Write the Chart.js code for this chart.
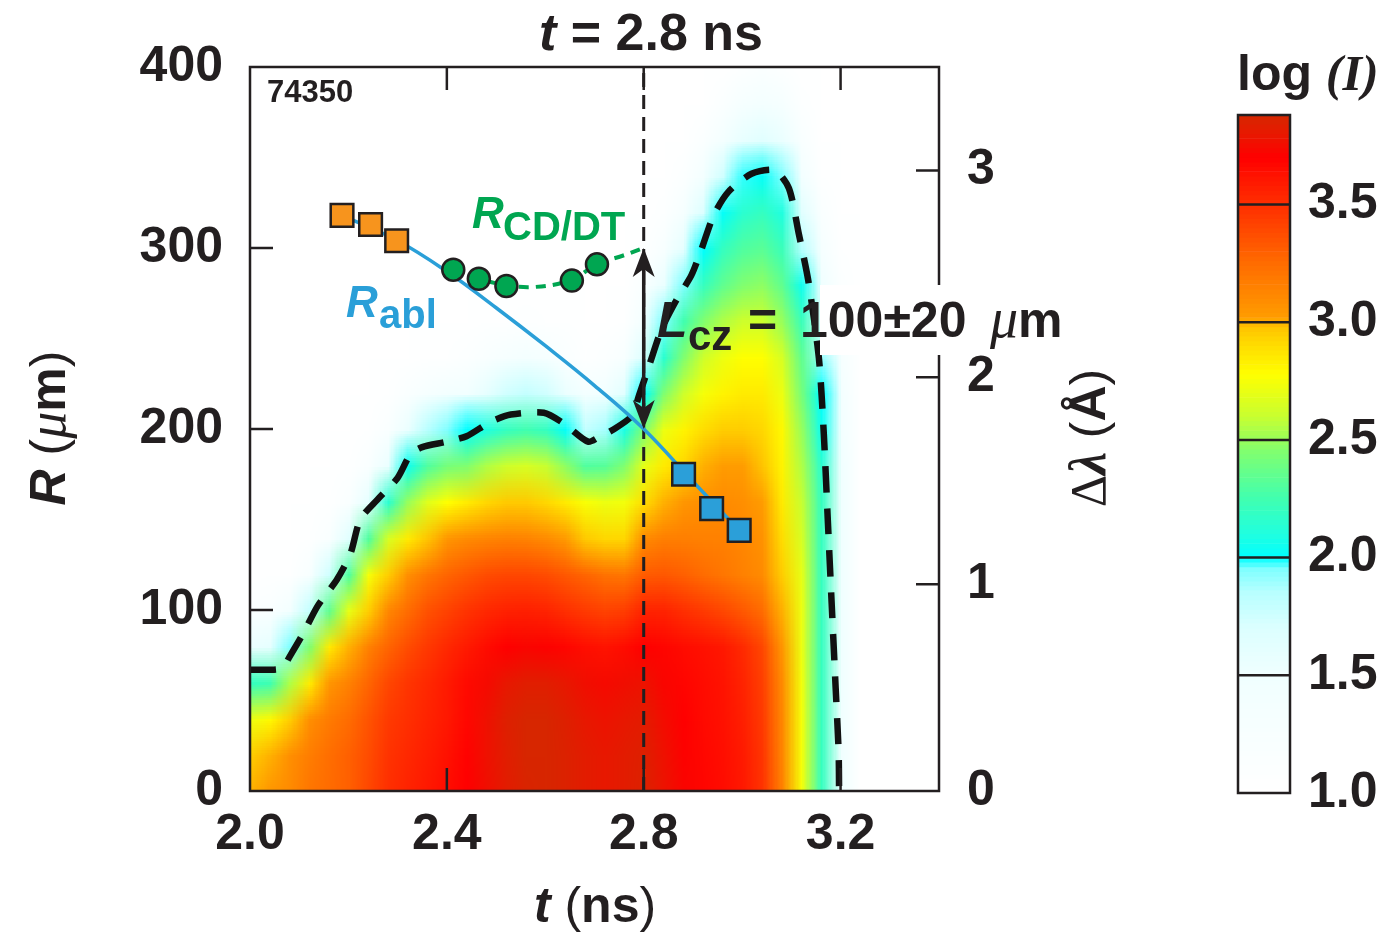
<!DOCTYPE html>
<html>
<head>
<meta charset="utf-8">
<title>t = 2.8 ns</title>
<script src="https://cdn.jsdelivr.net/npm/chart.js@4.4.0/dist/chart.umd.min.js"></script>
<style>
  body { margin: 0; background: #fff; }
  #wrap { position: relative; width: 1393px; height: 934px; }
  #wrap canvas { position: absolute; top: 0; }
</style>
</head>
<body>
<div id="wrap">
  <canvas id="main" width="1393" height="934" style="left:0"></canvas>
  <canvas id="cbar" width="213" height="934" style="left:1180px"></canvas>
</div>
<script>
var INK = '#231f20';
var SANS = 'Liberation Sans', SERIF = 'Liberation Serif';
Chart.defaults.font.family = SANS;
Chart.defaults.color = INK;

// axes
var tCut = 2.8;                 // time of the lineout (ns)
var tTicks = [2.0, 2.4, 2.8, 3.2];
var rTicks = [0, 100, 200, 300, 400];
var dlTicks = [0, 1, 2, 3];
var cbTicks = [1.0, 1.5, 2.0, 2.5, 3.0, 3.5];
var cbMin = 1.0, cbMax = 3.88;

// streaked emission, log(I) on a t x R grid
var tGrid = [2.00, 2.04, 2.08, 2.12, 2.16, 2.20, 2.24, 2.28, 2.32, 2.36, 2.40, 2.44, 2.48, 2.52, 2.56, 2.60,
             2.64, 2.68, 2.72, 2.76, 2.80, 2.84, 2.88, 2.92, 2.96, 3.00, 3.04, 3.08, 3.12, 3.16, 3.20, 3.24];
var rGrid = [0, 20, 40, 60, 80, 100, 120, 140, 160, 180, 200, 220, 240, 260, 280, 300, 320, 340, 360, 380, 400];
var logI = [
  [3.00,3.05,3.10,3.20,3.25,3.30,3.40,3.50,3.55,3.60,3.65,3.70,3.76,3.82,3.86,3.87,3.85,3.82,3.80,3.82,3.85,3.78,3.72,3.68,3.65,3.60,3.48,3.15,2.75,2.20,1.50,1.00], // R = 0
  [2.95,3.00,3.08,3.17,3.24,3.30,3.38,3.48,3.53,3.58,3.63,3.69,3.77,3.83,3.87,3.87,3.85,3.82,3.80,3.82,3.84,3.77,3.71,3.67,3.64,3.59,3.47,3.13,2.75,2.20,1.50,1.00], // 20
  [2.72,2.80,2.95,3.08,3.18,3.25,3.35,3.45,3.50,3.55,3.60,3.67,3.77,3.84,3.87,3.87,3.84,3.80,3.78,3.80,3.82,3.75,3.70,3.66,3.63,3.57,3.45,3.12,2.75,2.20,1.50,1.00], // 40
  [2.20,2.25,2.55,2.85,3.05,3.15,3.28,3.40,3.47,3.53,3.59,3.66,3.74,3.80,3.83,3.83,3.80,3.76,3.74,3.76,3.78,3.72,3.68,3.65,3.62,3.55,3.43,3.10,2.74,2.20,1.50,1.00], // 60
  [1.55,1.60,1.95,2.45,2.85,3.00,3.15,3.28,3.38,3.46,3.53,3.59,3.65,3.70,3.72,3.71,3.68,3.64,3.62,3.65,3.70,3.68,3.65,3.63,3.60,3.52,3.40,3.05,2.72,2.20,1.50,1.00], // 80
  [1.12,1.15,1.40,1.80,2.35,2.70,2.95,3.12,3.25,3.36,3.42,3.48,3.53,3.56,3.57,3.55,3.50,3.45,3.42,3.44,3.55,3.55,3.50,3.45,3.40,3.33,3.25,3.00,2.72,2.20,1.50,1.00], // 100
  [1.00,1.02,1.05,1.25,1.75,2.30,2.75,2.95,3.08,3.20,3.28,3.33,3.38,3.40,3.40,3.38,3.33,3.28,3.22,3.20,3.32,3.33,3.30,3.25,3.20,3.15,3.10,2.95,2.70,2.20,1.50,1.00], // 120
  [1.00,1.00,1.00,1.02,1.15,1.65,2.30,2.65,2.85,2.98,3.05,3.10,3.13,3.15,3.14,3.10,3.03,2.96,2.92,2.92,3.10,3.16,3.16,3.15,3.15,3.12,3.07,2.90,2.65,2.20,1.50,1.00], // 140
  [1.00,1.00,1.00,1.00,1.02,1.15,1.60,2.15,2.50,2.68,2.78,2.85,2.92,2.96,2.96,2.92,2.85,2.76,2.72,2.74,2.90,3.00,3.05,3.08,3.10,3.08,3.02,2.85,2.60,2.20,1.50,1.00], // 160
  [1.00,1.00,1.00,1.00,1.00,1.02,1.15,1.55,2.05,2.30,2.42,2.45,2.55,2.62,2.65,2.60,2.48,2.30,2.32,2.45,2.70,2.85,2.92,3.00,3.02,3.02,2.98,2.82,2.55,2.15,1.50,1.00], // 180
  [1.00,1.00,1.00,1.00,1.00,1.00,1.02,1.15,1.55,1.85,1.95,2.00,2.10,2.20,2.25,2.20,2.02,1.80,1.88,2.08,2.45,2.72,2.82,2.90,2.95,2.95,2.92,2.80,2.50,2.05,1.45,1.00], // 200
  [1.00,1.00,1.00,1.00,1.00,1.00,1.00,1.05,1.15,1.30,1.40,1.45,1.60,1.75,1.80,1.75,1.55,1.35,1.45,1.65,2.00,2.45,2.62,2.75,2.82,2.85,2.85,2.72,2.42,2.00,1.40,1.00], // 220
  [1.00,1.00,1.00,1.00,1.00,1.00,1.00,1.00,1.00,1.02,1.05,1.10,1.20,1.30,1.35,1.30,1.15,1.05,1.10,1.25,1.70,2.15,2.45,2.62,2.72,2.78,2.78,2.65,2.35,1.90,1.30,1.00], // 240
  [1.00,1.00,1.00,1.00,1.00,1.00,1.00,1.00,1.00,1.00,1.00,1.00,1.02,1.05,1.08,1.05,1.02,1.00,1.00,1.05,1.40,1.95,2.25,2.45,2.55,2.62,2.62,2.50,2.22,1.70,1.20,1.00], // 260
  [1.00,1.00,1.00,1.00,1.00,1.00,1.00,1.00,1.00,1.00,1.00,1.00,1.00,1.00,1.00,1.00,1.00,1.00,1.00,1.00,1.15,1.55,1.95,2.20,2.35,2.45,2.48,2.35,2.05,1.50,1.10,1.00], // 280
  [1.00,1.00,1.00,1.00,1.00,1.00,1.00,1.00,1.00,1.00,1.00,1.00,1.00,1.00,1.00,1.00,1.00,1.00,1.00,1.00,1.02,1.25,1.60,2.00,2.20,2.30,2.33,2.22,1.85,1.30,1.05,1.00], // 300
  [1.00,1.00,1.00,1.00,1.00,1.00,1.00,1.00,1.00,1.00,1.00,1.00,1.00,1.00,1.00,1.00,1.00,1.00,1.00,1.00,1.00,1.08,1.30,1.70,2.02,2.15,2.20,2.10,1.65,1.15,1.00,1.00], // 320
  [1.00,1.00,1.00,1.00,1.00,1.00,1.00,1.00,1.00,1.00,1.00,1.00,1.00,1.00,1.00,1.00,1.00,1.00,1.00,1.00,1.00,1.00,1.10,1.35,1.75,1.98,2.02,1.95,1.40,1.05,1.00,1.00], // 340
  [1.00,1.00,1.00,1.00,1.00,1.00,1.00,1.00,1.00,1.00,1.00,1.00,1.00,1.00,1.00,1.00,1.00,1.00,1.00,1.00,1.00,1.00,1.00,1.12,1.35,1.58,1.65,1.55,1.20,1.00,1.00,1.00], // 360
  [1.00,1.00,1.00,1.00,1.00,1.00,1.00,1.00,1.00,1.00,1.00,1.00,1.00,1.00,1.00,1.00,1.00,1.00,1.00,1.00,1.00,1.00,1.00,1.00,1.12,1.30,1.38,1.30,1.08,1.00,1.00,1.00], // 380
  [1.00,1.00,1.00,1.00,1.00,1.00,1.00,1.00,1.00,1.00,1.00,1.00,1.00,1.00,1.00,1.00,1.00,1.00,1.00,1.00,1.00,1.00,1.00,1.00,1.00,1.08,1.12,1.08,1.00,1.00,1.00,1.00]  // 400
];

// log(I) = 2 contour
var contourT = [2.000, 2.040, 2.066, 2.080, 2.108, 2.137, 2.177, 2.204, 2.224, 2.259, 2.300, 2.326, 2.350, 2.400,
                2.440, 2.489, 2.530, 2.597, 2.638, 2.687, 2.712, 2.734, 2.775, 2.791, 2.811, 2.836, 2.866, 2.897,
                2.917, 2.942, 2.972, 3.019, 3.066, 3.095, 3.115, 3.135, 3.156, 3.166, 3.174, 3.182, 3.190, 3.196, 3.197];
var contourR = [67, 67, 68, 74, 87, 102, 117, 131, 150, 161, 173, 186, 190, 193,
                196, 204, 208, 209, 203, 193, 196, 199, 207, 219, 235, 255, 271, 285,
                299, 318, 331, 341, 343, 333, 308, 281, 239, 197, 150, 103, 57, 22, 0];

// ablation-front radius: measured points and fit
var tOrange = [2.187, 2.245, 2.298];
var rOrange = [318, 313, 304];
var tBlue = [2.881, 2.938, 2.994];
var rBlue = [175, 156, 144];
var tAblFit = [2.187, 2.30, 2.40, 2.50, 2.60, 2.70, 2.80, 2.90, 2.994];
var rAblFit = [318, 304, 287, 267, 246, 224, 200, 171, 144];

// CD/DT interface radius: measured points and fit
var tGreen = [2.413, 2.465, 2.521, 2.654, 2.705];
var rGreen = [288, 283, 279, 282, 291];
var tGreenFit = [2.413, 2.465, 2.521, 2.58, 2.654, 2.705, 2.76, 2.80];
var rGreenFit = [288, 283, 279.5, 278.5, 282.5, 291, 296, 300];

// conduction-zone length at tCut
var lczLow = 200, lczHigh = 300;

// colour table for log(I)
var cmapLevels = [1.0, 1.5, 1.7, 1.85, 1.95, 2.0, 2.1, 2.25, 2.45, 2.6, 2.78, 2.9, 2.98, 3.02, 3.25, 3.45, 3.6, 3.7, 3.8, 3.9];
var cmapColors = ['#ffffff', '#f0ffff', '#dcffff', '#b8ffff', '#80ffff', '#00ffff', '#20ffe0', '#40ffb0', '#80ff70', '#c8ff30',
                  '#ffff00', '#ffdd00', '#ffc400', '#ff9c00', '#ff6c00', '#ff3a00', '#ff1800', '#ff0000', '#e81800', '#d02c00'];

function hexRgb(h) {
  return [parseInt(h.substr(1, 2), 16), parseInt(h.substr(3, 2), 16), parseInt(h.substr(5, 2), 16)];
}
var cmapRgb = cmapColors.map(hexRgb);

function cmap(v) {
  if (v <= cmapLevels[0]) return cmapRgb[0];
  for (var i = 1; i < cmapLevels.length; i++) {
    if (v <= cmapLevels[i]) {
      var f = (v - cmapLevels[i - 1]) / (cmapLevels[i] - cmapLevels[i - 1]);
      var a = cmapRgb[i - 1], b = cmapRgb[i];
      return [a[0] + (b[0] - a[0]) * f, a[1] + (b[1] - a[1]) * f, a[2] + (b[2] - a[2]) * f];
    }
  }
  return cmapRgb[cmapRgb.length - 1];
}
function css(c) { return 'rgb(' + Math.round(c[0]) + ',' + Math.round(c[1]) + ',' + Math.round(c[2]) + ')'; }

function pts(ts, rs) { return ts.map(function (t, i) { return { x: t, y: rs[i] }; }); }

// text made of pieces in different fonts
function drawParts(ctx, parts, x, y, align) {
  var w = 0;
  parts.forEach(function (p) { ctx.font = p[1]; w += ctx.measureText(p[0]).width; });
  var cx = align === 'center' ? x - w / 2 : x;
  ctx.textAlign = 'left';
  ctx.textBaseline = 'alphabetic';
  parts.forEach(function (p) {
    ctx.font = p[1];
    ctx.fillText(p[0], cx, y + (p[2] || 0));
    cx += ctx.measureText(p[0]).width;
  });
}

var B50 = 'bold 50px ' + SANS, BI50 = 'italic bold 50px ' + SANS, R50 = '50px ' + SANS;

var heatmapPlugin = {
  id: 'heatmap',
  beforeDatasetsDraw: function (chart) {
    var ctx = chart.ctx, a = chart.chartArea, xs = chart.scales.x, ys = chart.scales.y;
    var nx = tGrid.length, ny = rGrid.length;
    var off = document.createElement('canvas');
    off.width = nx; off.height = ny;
    var octx = off.getContext('2d');
    var img = octx.createImageData(nx, ny);
    for (var j = 0; j < ny; j++) {
      var row = logI[ny - 1 - j];   // image row 0 = largest radius
      for (var i = 0; i < nx; i++) {
        var c = cmap(row[i]), k = (j * nx + i) * 4;
        img.data[k] = c[0]; img.data[k + 1] = c[1]; img.data[k + 2] = c[2]; img.data[k + 3] = 255;
      }
    }
    octx.putImageData(img, 0, 0);
    var dt = tGrid[1] - tGrid[0], dr = rGrid[1] - rGrid[0];
    var x0 = xs.getPixelForValue(tGrid[0] - dt / 2), x1 = xs.getPixelForValue(tGrid[nx - 1] + dt / 2);
    var y0 = ys.getPixelForValue(rGrid[ny - 1] + dr / 2), y1 = ys.getPixelForValue(rGrid[0] - dr / 2);
    ctx.save();
    ctx.beginPath();
    ctx.rect(a.left, a.top, a.right - a.left, a.bottom - a.top);
    ctx.clip();
    ctx.imageSmoothingEnabled = true;
    ctx.drawImage(off, x0, y0, x1 - x0, y1 - y0);
    ctx.restore();
  }
};

function arrowHead(ctx, x, y, dir) {
  // dir -1: tip points up, +1: tip points down
  ctx.beginPath();
  ctx.moveTo(x, y);
  ctx.lineTo(x - 11, y - dir * 29);
  ctx.lineTo(x, y - dir * 21);
  ctx.lineTo(x + 11, y - dir * 29);
  ctx.closePath();
  ctx.fill();
}

var labelsPlugin = {
  id: 'labels',
  afterDatasetsDraw: function (chart) {
    var ctx = chart.ctx, xs = chart.scales.x, ys = chart.scales.y;
    ctx.save();
    // Lcz arrow
    var x = xs.getPixelForValue(tCut), yHi = ys.getPixelForValue(lczHigh), yLo = ys.getPixelForValue(lczLow);
    ctx.strokeStyle = INK; ctx.fillStyle = INK; ctx.lineWidth = 3.5;
    ctx.beginPath(); ctx.moveTo(x, yHi + 20); ctx.lineTo(x, yLo - 20); ctx.stroke();
    arrowHead(ctx, x, yHi, -1);
    arrowHead(ctx, x, yLo, 1);
    // curve names
    ctx.fillStyle = '#00a651';
    drawParts(ctx, [['R', 'italic bold 44px ' + SANS]], 472, 228);
    drawParts(ctx, [['CD/DT', 'bold 40px ' + SANS]], 503, 240);
    ctx.fillStyle = '#2a9fd8';
    drawParts(ctx, [['R', 'italic bold 44px ' + SANS]], 346, 317);
    drawParts(ctx, [['abl', 'bold 40px ' + SANS]], 379, 328);
    ctx.fillStyle = INK;
    drawParts(ctx, [['74350', 'bold 31px ' + SANS]], 267, 102);
    ctx.restore();
  }
};

var framePlugin = {
  id: 'frame',
  afterDraw: function (chart) {
    var ctx = chart.ctx, a = chart.chartArea;
    var xs = chart.scales.x, ys = chart.scales.y, y2 = chart.scales.y2, tl = 23;
    ctx.save();
    ctx.strokeStyle = INK; ctx.fillStyle = INK; ctx.lineWidth = 2.5;
    ctx.strokeRect(a.left, a.top, a.right - a.left, a.bottom - a.top);
    ctx.beginPath();
    tTicks.slice(1).forEach(function (v) {
      var x = xs.getPixelForValue(v);
      ctx.moveTo(x, a.top); ctx.lineTo(x, a.top + tl);
      ctx.moveTo(x, a.bottom); ctx.lineTo(x, a.bottom - tl);
    });
    rTicks.slice(1, -1).forEach(function (v) {
      var y = ys.getPixelForValue(v);
      ctx.moveTo(a.left, y); ctx.lineTo(a.left + tl, y);
    });
    dlTicks.slice(1).forEach(function (v) {
      var y = y2.getPixelForValue(v);
      ctx.moveTo(a.right, y); ctx.lineTo(a.right - tl, y);
    });
    ctx.stroke();

    // title and axis titles
    drawParts(ctx, [['t', 'italic bold 52px ' + SANS], [' = ' + tCut.toFixed(1) + ' ns', 'bold 52px ' + SANS]], 651, 50, 'center');
    drawParts(ctx, [['t', BI50], [' (', R50], ['ns', B50], [')', R50]], 595, 922, 'center');
    ctx.save();
    ctx.translate(65, 428); ctx.rotate(-Math.PI / 2);
    drawParts(ctx, [['R', BI50], [' (', R50], ['\u03bc', 'italic 54px ' + SERIF], ['m', B50], [')', R50]], 0, 0, 'center');
    ctx.restore();
    ctx.save();
    ctx.translate(1105, 438); ctx.rotate(-Math.PI / 2);
    drawParts(ctx, [['\u0394', '50px ' + SERIF], ['\u03bb', 'italic bold 52px ' + SERIF], [' (', R50], ['\u00c5', B50], [')', R50]], 0, 0, 'center');
    ctx.restore();

    // Lcz label, the value part on a white patch
    ctx.fillStyle = '#ffffff';
    ctx.fillRect(820, 285, 265, 70);
    ctx.fillStyle = INK;
    drawParts(ctx, [['L', BI50]], 657, 337);
    drawParts(ctx, [['cz', 'bold 42px ' + SANS]], 688, 350);
    drawParts(ctx, [['=', B50]], 748, 337);
    drawParts(ctx, [[(lczHigh - lczLow) + '\u00b120', B50]], 800, 337);
    drawParts(ctx, [['\u03bc', 'italic 56px ' + SERIF], ['m', B50]], 990, 337);
    ctx.restore();
  }
};

var tickFont = { family: SANS, size: 50, weight: 'bold' };

new Chart(document.getElementById('main'), {
  type: 'scatter',
  data: {
    datasets: [
      { data: pts(tGreen, rGreen), pointRadius: 11, pointBackgroundColor: '#00a651', pointBorderColor: INK,
        pointBorderWidth: 2.5, showLine: false, order: 1 },
      { data: pts(tOrange, rOrange), pointStyle: 'rect', pointRadius: 16, pointBackgroundColor: '#f7941d',
        pointBorderColor: INK, pointBorderWidth: 2.5, showLine: false, order: 2 },
      { data: pts(tBlue, rBlue), pointStyle: 'rect', pointRadius: 16, pointBackgroundColor: '#2b9fd9',
        pointBorderColor: INK, pointBorderWidth: 2.5, showLine: false, order: 2 },
      { data: pts(tGreenFit, rGreenFit), showLine: true, borderColor: '#00a651', borderWidth: 4,
        borderDash: [10, 7], pointRadius: 0, tension: 0.4, order: 3 },
      { data: pts(tAblFit, rAblFit), showLine: true, borderColor: '#2a9fd8', borderWidth: 3.5,
        pointRadius: 0, tension: 0.4, order: 3 },
      { data: [{ x: tCut, y: rTicks[0] }, { x: tCut, y: rTicks[rTicks.length - 1] }], showLine: true,
        borderColor: INK, borderWidth: 3, borderDash: [14, 8], pointRadius: 0, order: 4 },
      { data: pts(contourT, contourR), showLine: true, borderColor: '#111111', borderWidth: 6.5,
        borderDash: [26, 16], pointRadius: 0, tension: 0.25, order: 5 }
    ]
  },
  options: {
    responsive: false,
    animation: false,
    events: [],
    layout: { padding: { left: 0, top: 67, right: 254, bottom: 0 } },
    plugins: { legend: { display: false }, tooltip: { enabled: false } },
    scales: {
      x: {
        type: 'linear', min: 2.0, max: 3.4,
        afterBuildTicks: function (s) { s.ticks = tTicks.map(function (v) { return { value: v }; }); },
        afterFit: function (s) { s.height = 143; },
        grid: { display: false, drawTicks: false }, border: { display: false },
        ticks: { font: tickFont, color: INK, padding: 14, maxRotation: 0, autoSkip: false,
                 callback: function (v) { return v.toFixed(1); } }
      },
      y: {
        type: 'linear', position: 'left', min: 0, max: 400,
        afterBuildTicks: function (s) { s.ticks = rTicks.map(function (v) { return { value: v }; }); },
        afterFit: function (s) { s.width = 250; },
        grid: { display: false, drawTicks: false }, border: { display: false },
        ticks: { font: tickFont, color: INK, padding: 27 }
      },
      y2: {
        type: 'linear', position: 'right', min: 0, max: 3.5,
        afterBuildTicks: function (s) { s.ticks = dlTicks.map(function (v) { return { value: v }; }); },
        afterFit: function (s) { s.width = 200; },
        grid: { display: false, drawTicks: false }, border: { display: false },
        ticks: { font: tickFont, color: INK, padding: 28 }
      }
    }
  },
  plugins: [heatmapPlugin, labelsPlugin, framePlugin]
});

// colour bar
var cbStep = 0.02;
var cbLevels = [];
for (var v = cbMin + cbStep / 2; v < cbMax; v += cbStep) cbLevels.push(+v.toFixed(3));

var cbarPlugin = {
  id: 'cbarFrame',
  afterDraw: function (chart) {
    var ctx = chart.ctx, a = chart.chartArea, ys = chart.scales.y;
    ctx.save();
    ctx.strokeStyle = INK; ctx.lineWidth = 2.5;
    ctx.beginPath();
    cbTicks.slice(1).forEach(function (v) {
      var y = ys.getPixelForValue(v);
      ctx.moveTo(a.left, y); ctx.lineTo(a.right, y);
    });
    ctx.stroke();
    ctx.strokeRect(a.left, a.top, a.right - a.left, a.bottom - a.top);
    ctx.fillStyle = INK;
    drawParts(ctx, [['log ', B50], ['(', 'italic bold 50px ' + SERIF], ['I', 'italic bold 50px ' + SERIF],
                    [')', 'italic bold 50px ' + SERIF]], 57, 90);
    ctx.restore();
  }
};

new Chart(document.getElementById('cbar'), {
  type: 'bar',
  data: {
    datasets: [{
      data: cbLevels.map(function (v) { return { x: [0, 1], y: v }; }),
      backgroundColor: cbLevels.map(function (v) { return css(cmap(v)); }),
      borderWidth: 0, barPercentage: 1, categoryPercentage: 1
    }]
  },
  options: {
    indexAxis: 'y',
    responsive: false,
    animation: false,
    events: [],
    layout: { padding: { left: 58, top: 115, right: 0, bottom: 141 } },
    plugins: { legend: { display: false }, tooltip: { enabled: false } },
    scales: {
      x: { type: 'linear', min: 0, max: 1, display: false, offset: false },
      y: {
        type: 'linear', position: 'right', min: cbMin, max: cbMax, offset: false,
        afterBuildTicks: function (s) { s.ticks = cbTicks.map(function (v) { return { value: v }; }); },
        afterFit: function (s) { s.width = 103; },
        grid: { display: false, drawTicks: false }, border: { display: false },
        ticks: { font: tickFont, color: INK, padding: 18, callback: function (v) { return v.toFixed(1); } }
      }
    }
  },
  plugins: [cbarPlugin]
});
</script>
</body>
</html>
